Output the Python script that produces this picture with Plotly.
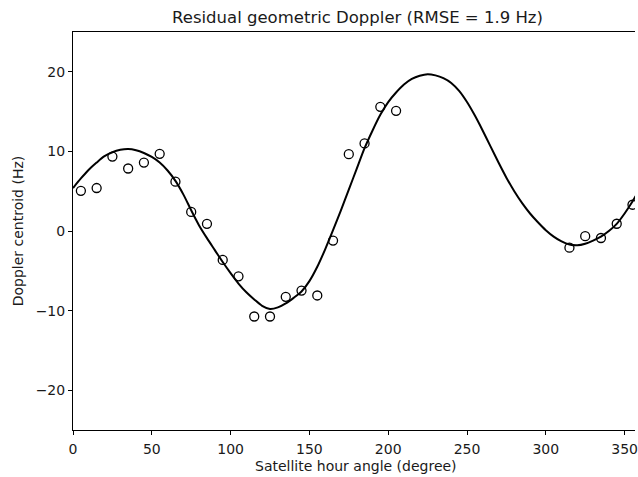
import plotly.graph_objects as go

# Measured residual Doppler samples
obs_angle = [5, 15, 25, 35, 45, 55, 65, 75, 85, 95, 105, 115, 125, 135, 145, 155,
             165, 175, 185, 195, 205, 315, 325, 335, 345, 355]
obs_doppler = [5.05, 5.4, 9.35, 7.85, 8.6, 9.7, 6.2, 2.4, 0.9, -3.63, -5.7, -10.74,
               -10.74, -8.27, -7.48, -8.1, -1.2, 9.65, 11.0, 15.6, 15.1, -2.1, -0.65,
               -0.88, 0.91, 3.3]

# Fitted model curve (every 5 degrees)
fit_angle = list(range(0, 365, 5))
fit_doppler = [5.4, 6.6, 7.7, 8.6, 9.4, 9.9, 10.2, 10.3, 10.15, 9.8,
               9.3, 8.6, 7.6, 6.3, 4.6, 2.6, 0.7, -0.9, -2.4, -3.9,
               -5.3, -6.6, -7.7, -8.6, -9.4, -9.8, -9.6, -9.1, -8.4, -7.6,
               -6.3, -4.5, -2.3, 0.1, 2.6, 5.2, 7.8, 10.4, 12.6, 14.6,
               16.2, 17.4, 18.4, 19.1, 19.5, 19.7, 19.55, 19.2, 18.6, 17.6,
               16.2, 14.5, 12.6, 10.6, 8.6, 6.7, 5.0, 3.5, 2.2, 1.1,
               0.1, -0.7, -1.3, -1.7, -1.8, -1.6, -1.2, -0.7, 0.0, 0.9,
               2.2, 3.7, 5.4]

x_ticks = [0, 50, 100, 150, 200, 250, 300, 350]
y_ticks = [-20, -10, 0, 10, 20]

FONT = "DejaVu Sans"
INK = "#1a1a1a"

fig = go.Figure()
fig.add_trace(go.Scatter(
    x=fit_angle, y=fit_doppler, mode="lines",
    line=dict(color="black", width=2, shape="spline", smoothing=0.8),
    showlegend=False, hoverinfo="skip"))
fig.add_trace(go.Scatter(
    x=obs_angle, y=obs_doppler, mode="markers",
    marker=dict(symbol="circle-open", size=9, color="black", line=dict(width=1.3)),
    showlegend=False))

W, H = 638, 477
L, T, B, R = 73, 32, 47, 0

fig.update_layout(
    width=W, height=H,
    margin=dict(l=L, r=R, t=T, b=B, pad=0),
    paper_bgcolor="white", plot_bgcolor="white",
    font=dict(family=FONT, size=14, color=INK),
    title=dict(text="Residual geometric Doppler (RMSE = 1.9 Hz)",
               font=dict(family=FONT, size=16.5, color=INK),
               xref="container", x=357.5 / W, xanchor="center",
               yref="container", y=1 - 17.5 / H, yanchor="middle"),
    xaxis=dict(range=[0, 356.6], tickvals=x_ticks, ticks="outside", ticklen=4,
               tickwidth=1, tickcolor="black", showline=True, linecolor="black",
               linewidth=1, mirror=True, showgrid=False, zeroline=False,
               ticklabeloverflow="allow", ticklabelstandoff=2,
               tickfont=dict(family=FONT, size=14, color=INK)),
    yaxis=dict(range=[-25, 25], tickvals=y_ticks, ticks="outside", ticklen=4,
               tickwidth=1, tickcolor="black", showline=True, linecolor="black",
               linewidth=1, mirror=False, showgrid=False, zeroline=False,
               tickfont=dict(family=FONT, size=14, color=INK)),
    annotations=[
        dict(text="Satellite hour angle (degree)", xref="paper", yref="paper",
             x=(357.5 - L) / (W - L - R), y=-(466 - (H - B)) / (H - T - B),
             xanchor="center", yanchor="middle", showarrow=False,
             font=dict(family=FONT, size=14, color=INK)),
        dict(text="Doppler centroid (Hz)", xref="paper", yref="paper",
             x=-(L - 18) / (W - L - R), y=0.5, textangle=-90,
             xanchor="center", yanchor="middle", showarrow=False,
             font=dict(family=FONT, size=14, color=INK)),
    ],
)

fig.write_html("out.html")
